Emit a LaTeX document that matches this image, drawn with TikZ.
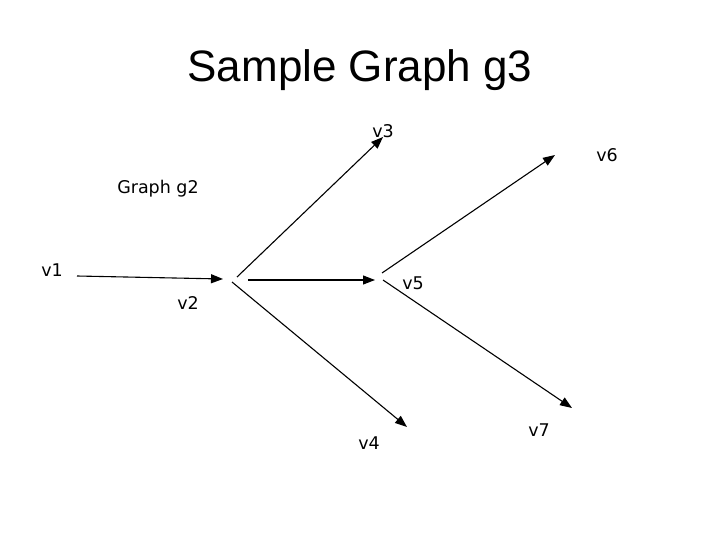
\documentclass[tikz,border=0pt]{standalone}
\usepackage{fontspec}
\setmainfont{DejaVu Sans}
\newfontfamily\titlefont{Liberation Sans}
\usetikzlibrary{arrows.meta}
\begin{document}
\begin{tikzpicture}[x=1pt,y=-1pt,
  lbl/.style={font=\fontsize{17.5}{20}\selectfont, inner sep=0pt},
  edge/.style={line width=1.1pt, -{Triangle[length=12pt,width=9pt]}}]
\useasboundingbox (0,0) rectangle (720,540);
\node[font=\titlefont\fontsize{44}{50}\selectfont] (title) at (360,70) {Sample Graph g3};
\node[lbl] (g2) at (158,189) {Graph g2};
\node[lbl] (v1) at (52,270) {v1};
\node[lbl] (v2) at (188,303) {v2};
\node[lbl] (v3) at (383,131) {v3};
\node[lbl] (v4) at (369,443) {v4};
\node[lbl] (v5) at (413,283) {v5};
\node[lbl] (v6) at (607,155) {v6};
\node[lbl] (v7) at (539,430) {v7};
\coordinate (a1) at (77,276);
\coordinate (a2) at (223,279);
\coordinate (b1) at (237,277);
\coordinate (b2) at (383,137);
\coordinate (c1) at (248,280);
\coordinate (c2) at (375,280);
\coordinate (d1) at (232,282);
\coordinate (d2) at (407,427);
\coordinate (e1) at (382,273);
\coordinate (e2) at (555,155);
\coordinate (f1) at (383,280);
\coordinate (f2) at (572,408);
\draw[edge] (a1) -- (a2);
\draw[edge] (b1) -- (b2);
\draw[edge] (c1) -- (c2);
\draw[edge] (d1) -- (d2);
\draw[edge] (e1) -- (e2);
\draw[edge] (f1) -- (f2);
\end{tikzpicture}
\end{document}
